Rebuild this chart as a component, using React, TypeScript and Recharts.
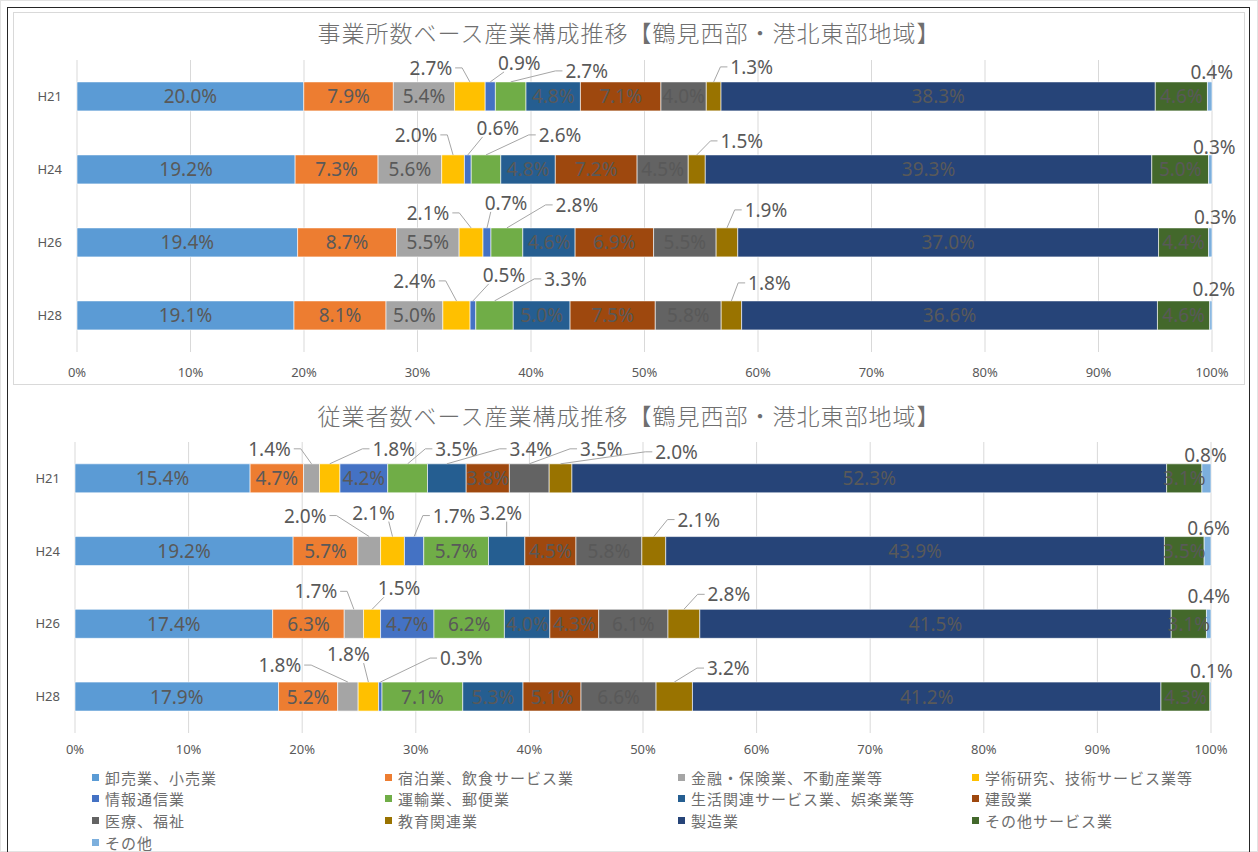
import React from 'react';
import { BarChart, Bar, XAxis, YAxis, CartesianGrid, LabelList } from 'recharts';

// ---------- data ----------
const categories = ['H21', 'H24', 'H26', 'H28'];

const industries = [
  '卸売業、小売業',
  '宿泊業、飲食サービス業',
  '金融・保険業、不動産業等',
  '学術研究、技術サービス業等',
  '情報通信業',
  '運輸業、郵便業',
  '生活関連サービス業、娯楽業等',
  '建設業',
  '医療、福祉',
  '教育関連業',
  '製造業',
  'その他サービス業',
  'その他',
];

// 事業所数ベース (%), industry order as above
const estH21 = [20.0, 7.9, 5.4, 2.7, 0.9, 2.7, 4.8, 7.1, 4.0, 1.3, 38.3, 4.6, 0.4];
const estH24 = [19.2, 7.3, 5.6, 2.0, 0.6, 2.6, 4.8, 7.2, 4.5, 1.5, 39.3, 5.0, 0.3];
const estH26 = [19.4, 8.7, 5.5, 2.1, 0.7, 2.8, 4.6, 6.9, 5.5, 1.9, 37.0, 4.4, 0.3];
const estH28 = [19.1, 8.1, 5.0, 2.4, 0.5, 3.3, 5.0, 7.5, 5.8, 1.8, 36.6, 4.6, 0.2];

// 従業者数ベース (%)
const empH21 = [15.4, 4.7, 1.4, 1.8, 4.2, 3.5, 3.4, 3.8, 3.5, 2.0, 52.3, 3.1, 0.8];
const empH24 = [19.2, 5.7, 2.0, 2.1, 1.7, 5.7, 3.2, 4.5, 5.8, 2.1, 43.9, 3.5, 0.6];
const empH26 = [17.4, 6.3, 1.7, 1.5, 4.7, 6.2, 4.0, 4.3, 6.1, 2.8, 41.5, 3.1, 0.4];
const empH28 = [17.9, 5.2, 1.8, 1.8, 0.3, 7.1, 5.3, 5.1, 6.6, 3.2, 41.2, 4.3, 0.1];

const xTicks = [0, 0.1, 0.2, 0.3, 0.4, 0.5, 0.6, 0.7, 0.8, 0.9, 1];

const titleEst = '事業所数ベース産業構成推移【鶴見西部・港北東部地域】';
const titleEmp = '従業者数ベース産業構成推移【鶴見西部・港北東部地域】';

// ---------- style ----------
const colors = [
  '#5B9BD5', '#ED7D31', '#A5A5A5', '#FFC000', '#4472C4', '#70AD47',
  '#255E91', '#9E480E', '#636363', '#997300', '#264478', '#43682B', '#7CAFDD',
];

// callout label offsets (dx, dy from segment top-centre), per series index, per category
type Off = number[] | null;
const estCallouts: Record<number, Off[]> = {
  3: [[-39, -14], [-37, -20], [-43, -15], [-42, -20]],
  4: [[29, -19], [30, -27], [19, -25], [31, -26]],
  5: [[76, -11], [74, -20], [70, -23], [71, -22]],
  9: [[38, -15], [45, -14], [39, -18], [38, -18]],
  12: [[2, -10], [4, -8], [5, -11], [3, -12]],
};
const empCallouts: Record<number, Off[]> = {
  2: [[-42, -15], [-64, -21], [-38, -18], [-68, -17]],
  3: [[64, -15], [-19, -24], [27, -21], [-20, -28]],
  4: [null, [40, -21], null, [81, -24]],
  5: [[49, -15], null, null, null],
  6: [[84, -15], [-6, -24], null, null],
  8: [[72, -15], null, null, null],
  9: [[116, -12], [45, -17], [45, -15], [54, -14]],
  12: [[-1, -9], [1, -9], [0, -13], [1, -11]],
};

const numFont = "'Noto Sans', 'Open Sans', sans-serif";
const cjkFont = "'Noto Sans CJK JP', 'Noto Sans', sans-serif";
const textGray = '#595959';
const labelSize = 19;

function buildRows(years: number[][]) {
  return categories.map((name, i) => {
    const row: Record<string, any> = { name };
    years[i].forEach((v, k) => {
      row['s' + k] = v;
    });
    return row;
  });
}

const estYears = [estH21, estH24, estH26, estH28];
const empYears = [empH21, empH24, empH26, empH28];
const estRows = buildRows(estYears);
const empRows = buildRows(empYears);

function textWidth(t: string) {
  let w = 0;
  for (const ch of t) {
    if (ch === '.') w += 0.27;
    else if (ch === '%') w += 0.823;
    else w += 0.572;
  }
  return w * labelSize;
}

function makeLabel(years: number[][], callouts: Record<number, Off[]>, si: number) {
  return (props: any) => {
    const vb = props.viewBox || props;
    const x = props.x ?? vb.x;
    const y = props.y ?? vb.y;
    const width = props.width ?? vb.width;
    const height = props.height ?? vb.height;
    const index = props.index;
    if (index == null || x == null) return null;
    const v = years[index][si];
    const t = v.toFixed(1) + '%';
    const co = callouts[si] ? callouts[si][index] : null;
    if (!co) {
      return (
        <text
          x={x + width / 2}
          y={y + height / 2}
          textAnchor="middle"
          dominantBaseline="central"
          fill={textGray}
          fontSize={labelSize}
          fontFamily={numFont}
        >
          {t}
        </text>
      );
    }
    const [dx, dy] = co;
    const ax = x + width / 2;
    const ay = y;
    const lx = ax + dx;
    const ly = ay + dy;
    const hw = textWidth(t) / 2;
    let line: React.ReactNode = null;
    if (si !== 12) {
      if (Math.abs(dx) < hw + 12) {
        const sx = lx - Math.sign(dx) * Math.min(Math.abs(dx), hw - 6);
        line = <polyline points={`${sx},${ly + 9} ${ax},${ay}`} fill="none" stroke="#a6a6a6" strokeWidth={1} />;
      } else {
        const side = dx > 0 ? -1 : 1;
        const px = lx + side * (hw + 3);
        const p2x = px + side * 7;
        line = (
          <polyline
            points={`${px},${ly} ${p2x},${ly} ${ax},${ay}`}
            fill="none"
            stroke="#a6a6a6"
            strokeWidth={1}
          />
        );
      }
    }
    return (
      <g>
        {line}
        <text
          x={lx}
          y={ly}
          textAnchor="middle"
          dominantBaseline="central"
          fill={textGray}
          fontSize={labelSize}
          fontFamily={numFont}
        >
          {t}
        </text>
      </g>
    );
  };
}

function StackChart(props: {
  rows: any[];
  years: number[][];
  callouts: Record<number, Off[]>;
  height: number;
  margin: any;
  yWidth: number;
  xTickMargin: number;
}) {
  const { rows, years, callouts, height, margin, yWidth, xTickMargin } = props;
  return (
    <BarChart
      width={1258}
      height={height}
      data={rows}
      layout="vertical"
      stackOffset="expand"
      margin={margin}
      barCategoryGap="30%"
    >
      <CartesianGrid horizontal={false} stroke="#d9d9d9" />
      <XAxis
        type="number"
        domain={[0, 1]}
        ticks={xTicks}
        tickFormatter={(v: number) => Math.round(v * 100) + '%'}
        axisLine={false}
        tickLine={false}
        tickMargin={xTickMargin}
        height={30}
        tick={{ fill: textGray, fontSize: 13, fontFamily: numFont }}
        interval={0}
      />
      <YAxis
        type="category"
        dataKey="name"
        width={yWidth}
        axisLine={false}
        tickLine={false}
        tickMargin={9}
        tick={{ fill: textGray, fontSize: 13, fontFamily: numFont }}
      />
      {industries.map((name, si) => (
        <Bar
          key={name}
          dataKey={'s' + si}
          name={name}
          stackId="a"
          fill={colors[si]}
          stroke="#ffffff"
          strokeWidth={0.6}
          isAnimationActive={false}
        >
          <LabelList content={makeLabel(years, callouts, si)} />
        </Bar>
      ))}
    </BarChart>
  );
}

const legendCols = [92, 385, 678, 972];
const legendRows = [777, 798, 820, 842];

const titleStyle: React.CSSProperties = {
  position: 'absolute',
  left: 0,
  width: 1258,
  height: 24,
  lineHeight: '24px',
  textAlign: 'center',
  fontSize: 23,
  letterSpacing: 1,
  fontFamily: cjkFont,
  color: '#6f6f6f',
  fontWeight: 300,
};

export default function App() {
  return (
    <div
      style={{
        position: 'absolute',
        left: 0,
        top: 0,
        width: 1258,
        height: 852,
        background: '#ffffff',
        overflow: 'hidden',
      }}
    >
      {/* frames */}
      <div style={{ position: 'absolute', left: 0, top: 0, width: 1256, height: 850, border: '1px solid #e3e3e3' }} />
      <div
        style={{
          position: 'absolute',
          left: 7,
          top: 7,
          width: 1241,
          height: 860,
          border: '1.5px solid #262626',
        }}
      />
      <div
        style={{
          position: 'absolute',
          left: 13,
          top: 12,
          width: 1230,
          height: 371,
          border: '1px solid #d9d9d9',
        }}
      />

      <div style={{ ...titleStyle, top: 20 }}>{titleEst}</div>
      <div style={{ position: 'absolute', left: 0, top: 0 }}>
        <StackChart
          rows={estRows}
          years={estYears}
          callouts={estCallouts}
          height={390}
          margin={{ top: 60, right: 46, bottom: 8, left: 0 }}
          yWidth={77}
          xTickMargin={10}
        />
      </div>

      <div style={{ ...titleStyle, top: 403 }}>{titleEmp}</div>
      <div style={{ position: 'absolute', left: 0, top: 380 }}>
        <StackChart
          rows={empRows}
          years={empYears}
          callouts={empCallouts}
          height={383}
          margin={{ top: 62, right: 47, bottom: 0, left: 0 }}
          yWidth={75}
          xTickMargin={6}
        />
      </div>

      {industries.map((name, i) => {
        const col = i % 4;
        const row = Math.floor(i / 4);
        return (
          <div
            key={name}
            style={{
              position: 'absolute',
              left: legendCols[col],
              top: legendRows[row] - 11,
              height: 22,
              display: 'flex',
              alignItems: 'center',
              fontSize: 15,
              fontFamily: cjkFont,
              color: '#6e6e6e',
              whiteSpace: 'nowrap',
            }}
          >
            <span style={{ display: 'inline-block', width: 7, height: 7, background: colors[i], marginRight: 6 }} />
            <span style={{ letterSpacing: 1 }}>{name}</span>
          </div>
        );
      })}
    </div>
  );
}
